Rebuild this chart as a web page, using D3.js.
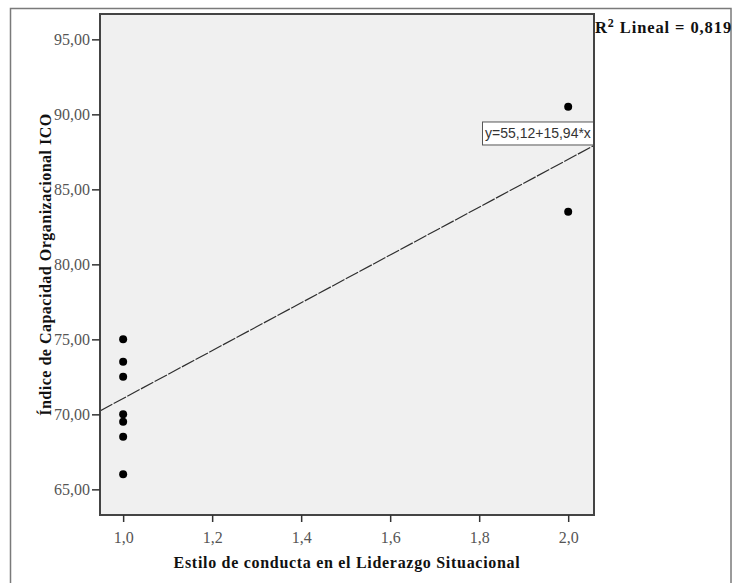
<!DOCTYPE html>
<html>
<head>
<meta charset="utf-8">
<script src="https://cdn.jsdelivr.net/npm/d3@7"></script>
<style>
  html, body { margin: 0; padding: 0; background: #fff; }
  svg { display: block; }
</style>
</head>
<body>
<svg id="chart" width="734" height="583"></svg>
<script>
// ---- data ----
const xValues = [1, 1, 1, 1, 1, 1, 1, 2, 2];
const yValues = [75, 73.5, 72.5, 70, 69.5, 68.5, 66, 90.5, 83.5];
const xTicks = [1.0, 1.2, 1.4, 1.6, 1.8, 2.0];
const yTicks = [65, 70, 75, 80, 85, 90, 95];
const fitIntercept = 55.12;
const fitSlope = 15.94;
const equationLabel = "y=55,12+15,94*x";
const r2Label = "0,819";
const xTitle = "Estilo de conducta en el Liderazgo Situacional";
const yTitle = "Índice de Capacidad Organizacional ICO";

const svg = d3.select("#chart");
const plot = { left: 100, right: 594, top: 14, bottom: 515 };

const x = d3.scaleLinear().domain([0.948, 2.058]).range([plot.left, plot.right]);
const y = d3.scaleLinear().domain([63.29, 96.69]).range([plot.bottom, plot.top]);

const fmtComma = (d, n) => d.toFixed(n).replace(".", ",");
const serif = "Liberation Serif, Times New Roman, serif";

// outer frame
svg.append("rect")
  .attr("x", 10.5).attr("y", 8.5)
  .attr("width", 720.5).attr("height", 590)
  .attr("fill", "none").attr("stroke", "#7a7a7a").attr("stroke-width", 1.5);

// plot background
svg.append("rect")
  .attr("x", plot.left).attr("y", plot.top)
  .attr("width", plot.right - plot.left).attr("height", plot.bottom - plot.top)
  .attr("fill", "#f0f0f0");

svg.append("clipPath").attr("id", "clip")
  .append("rect")
  .attr("x", plot.left).attr("y", plot.top)
  .attr("width", plot.right - plot.left).attr("height", plot.bottom - plot.top);

// fit line
const xd = x.domain();
svg.append("line")
  .attr("clip-path", "url(#clip)")
  .attr("x1", x(xd[0])).attr("y1", y(fitIntercept + fitSlope * xd[0]))
  .attr("x2", x(xd[1])).attr("y2", y(fitIntercept + fitSlope * xd[1]))
  .attr("stroke", "#2e2e2e").attr("stroke-width", 1.2)
  .attr("stroke-dasharray", "14,1.5");

// points
svg.append("g").selectAll("circle")
  .data(xValues.map((v, i) => [v, yValues[i]]))
  .join("circle")
  .attr("cx", d => x(d[0]))
  .attr("cy", d => y(d[1]))
  .attr("r", 4)
  .attr("fill", "#000");

// equation box
const eqRight = x(xd[1]);
const eqBottom = y(fitIntercept + fitSlope * xd[1]);
const boxW = 112, boxH = 24;
svg.append("rect")
  .attr("x", eqRight - boxW + 0.5).attr("y", eqBottom - boxH + 0.5)
  .attr("width", boxW - 1).attr("height", boxH - 1)
  .attr("fill", "#fff").attr("stroke", "#555").attr("stroke-width", 1);
svg.append("text")
  .attr("x", eqRight - boxW + 3).attr("y", eqBottom - 7)
  .attr("font-family", "Liberation Sans, Arial, sans-serif")
  .attr("font-size", 14)
  .attr("fill", "#333")
  .text(equationLabel);

// plot border
svg.append("rect")
  .attr("x", plot.left).attr("y", plot.top)
  .attr("width", plot.right - plot.left).attr("height", plot.bottom - plot.top)
  .attr("fill", "none").attr("stroke", "#444").attr("stroke-width", 2);

// axes
const xAxis = d3.axisBottom(x).tickValues(xTicks).tickSize(7).tickSizeOuter(0)
  .tickFormat(d => fmtComma(d, 1));
const gx = svg.append("g").attr("transform", `translate(0,${plot.bottom})`).call(xAxis);
gx.select(".domain").remove();
gx.selectAll(".tick line").attr("stroke", "#333").attr("stroke-width", 1.5);
gx.selectAll(".tick text")
  .attr("font-family", serif)
  .attr("font-size", 16).attr("fill", "#555").attr("dy", "1.1em");

const yAxis = d3.axisLeft(y).tickValues(yTicks).tickSize(8).tickSizeOuter(0)
  .tickFormat(d => fmtComma(d, 2));
const gy = svg.append("g").attr("transform", `translate(${plot.left},0)`).call(yAxis);
gy.select(".domain").remove();
gy.selectAll(".tick line").attr("stroke", "#333").attr("stroke-width", 1.5);
gy.selectAll(".tick text")
  .attr("font-family", serif)
  .attr("font-size", 16).attr("fill", "#555").attr("x", -10);

// axis titles
svg.append("text")
  .attr("x", (plot.left + plot.right) / 2).attr("y", 568)
  .attr("text-anchor", "middle")
  .attr("font-family", serif)
  .attr("font-weight", "bold").attr("font-size", 16).attr("fill", "#111")
  .attr("letter-spacing", 0.7)
  .text(xTitle);

svg.append("text")
  .attr("transform", `translate(51,${(plot.top + plot.bottom) / 2}) rotate(-90)`)
  .attr("text-anchor", "middle")
  .attr("font-family", serif)
  .attr("font-weight", "bold").attr("font-size", 16).attr("fill", "#111")
  .attr("letter-spacing", 0.5)
  .text(yTitle);

// R² label
const r2 = svg.append("text")
  .attr("x", 595).attr("y", 33)
  .attr("font-family", serif)
  .attr("font-weight", "bold").attr("font-size", 16.5).attr("fill", "#111")
  .attr("letter-spacing", 0.9);
r2.append("tspan").text("R");
r2.append("tspan").attr("font-size", 12).attr("dy", -6).text("2");
r2.append("tspan").attr("dy", 6).text(" Lineal = " + r2Label);
</script>
</body>
</html>
